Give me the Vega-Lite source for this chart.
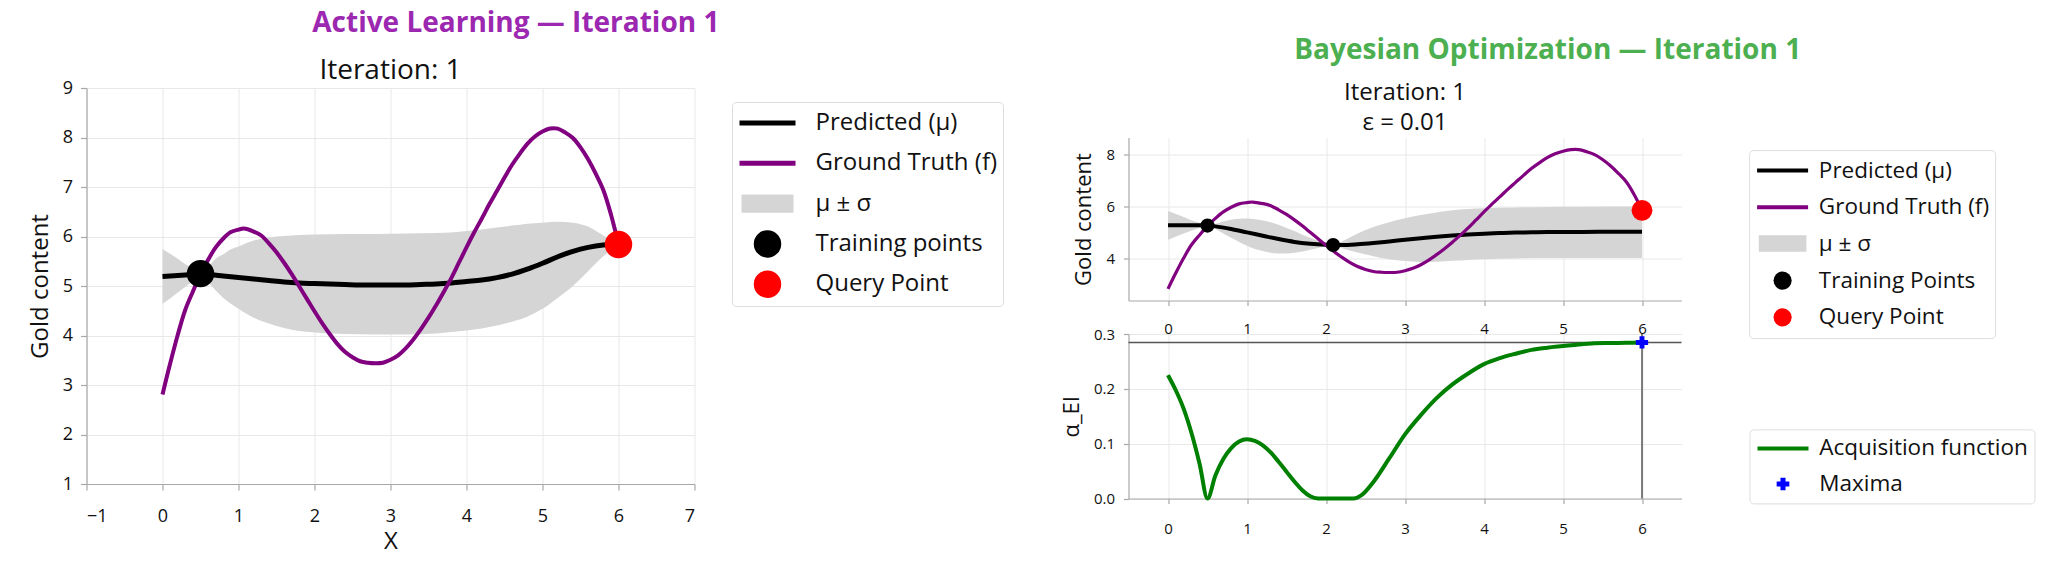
{
  "$schema": "https://vega.github.io/schema/vega-lite/v6.json",
  "background": "white",
  "padding": {"left": 27.5, "top": 10, "right": 0, "bottom": 12},
  "config": {
    "font": "Open Sans",
    "view": {"stroke": null},
    "axis": {
      "domainColor": "#a8a8a8", "domainWidth": 1.2, "tickColor": "#a8a8a8", "tickSize": 6, "tickWidth": 1.2,
      "gridColor": "#e8e8e8", "gridWidth": 1, "labelColor": "#111111", "titleColor": "#111111",
      "labelFont": "Open Sans", "titleFont": "Open Sans", "titleFontWeight": "normal"
    },
    "title": {"font": "Open Sans", "fontWeight": "normal", "color": "#111111", "anchor": "middle"},
    "legend": {"labelFont": "Open Sans", "labelColor": "#111111", "strokeColor": "#dddddd", "cornerRadius": 4, "fillColor": "white", "labelLimit": 500, "title": null}
  },
  "datasets": {
    "truth": [
      {"x": 0, "y": 2.81}, {"x": 0.1, "y": 3.43}, {"x": 0.2, "y": 4.01}, {"x": 0.3, "y": 4.52}, {"x": 0.4, "y": 4.89},
      {"x": 0.5, "y": 5.24}, {"x": 0.6, "y": 5.53}, {"x": 0.7, "y": 5.78}, {"x": 0.8, "y": 5.96}, {"x": 0.9, "y": 6.09},
      {"x": 1.0, "y": 6.14}, {"x": 1.07, "y": 6.16}, {"x": 1.2, "y": 6.1}, {"x": 1.3, "y": 6.02}, {"x": 1.4, "y": 5.86},
      {"x": 1.5, "y": 5.68}, {"x": 1.6, "y": 5.47}, {"x": 1.7, "y": 5.24}, {"x": 1.8, "y": 4.99}, {"x": 1.9, "y": 4.74},
      {"x": 2.0, "y": 4.49}, {"x": 2.1, "y": 4.25}, {"x": 2.2, "y": 4.03}, {"x": 2.3, "y": 3.83}, {"x": 2.4, "y": 3.67},
      {"x": 2.5, "y": 3.56}, {"x": 2.6, "y": 3.48}, {"x": 2.7, "y": 3.45}, {"x": 2.8, "y": 3.44}, {"x": 2.9, "y": 3.45},
      {"x": 3.0, "y": 3.51}, {"x": 3.1, "y": 3.6}, {"x": 3.2, "y": 3.74}, {"x": 3.3, "y": 3.92}, {"x": 3.4, "y": 4.13},
      {"x": 3.5, "y": 4.36}, {"x": 3.6, "y": 4.61}, {"x": 3.7, "y": 4.88}, {"x": 3.8, "y": 5.16}, {"x": 3.9, "y": 5.47},
      {"x": 4.0, "y": 5.78}, {"x": 4.1, "y": 6.08}, {"x": 4.2, "y": 6.36}, {"x": 4.3, "y": 6.65}, {"x": 4.4, "y": 6.92},
      {"x": 4.5, "y": 7.19}, {"x": 4.6, "y": 7.45}, {"x": 4.7, "y": 7.67}, {"x": 4.8, "y": 7.87}, {"x": 4.9, "y": 8.02},
      {"x": 5.0, "y": 8.12}, {"x": 5.1, "y": 8.18}, {"x": 5.2, "y": 8.18}, {"x": 5.3, "y": 8.1}, {"x": 5.4, "y": 7.99},
      {"x": 5.5, "y": 7.8}, {"x": 5.6, "y": 7.56}, {"x": 5.7, "y": 7.27}, {"x": 5.8, "y": 6.94}, {"x": 5.9, "y": 6.45},
      {"x": 6.0, "y": 5.84}
    ],
    "meanL": [
      {"x": 0, "y": 5.19}, {"x": 0.2, "y": 5.21}, {"x": 0.4, "y": 5.23}, {"x": 0.5, "y": 5.24}, {"x": 0.6, "y": 5.23},
      {"x": 0.8, "y": 5.2}, {"x": 1.0, "y": 5.17}, {"x": 1.2, "y": 5.14}, {"x": 1.4, "y": 5.11}, {"x": 1.6, "y": 5.08},
      {"x": 1.8, "y": 5.06}, {"x": 2.0, "y": 5.05}, {"x": 2.2, "y": 5.04}, {"x": 2.4, "y": 5.03}, {"x": 2.6, "y": 5.02},
      {"x": 2.8, "y": 5.02}, {"x": 3.0, "y": 5.02}, {"x": 3.2, "y": 5.02}, {"x": 3.4, "y": 5.03}, {"x": 3.6, "y": 5.04},
      {"x": 3.8, "y": 5.06}, {"x": 4.0, "y": 5.09}, {"x": 4.2, "y": 5.12}, {"x": 4.4, "y": 5.17}, {"x": 4.6, "y": 5.24},
      {"x": 4.8, "y": 5.34}, {"x": 5.0, "y": 5.46}, {"x": 5.2, "y": 5.59}, {"x": 5.4, "y": 5.7}, {"x": 5.6, "y": 5.78},
      {"x": 5.8, "y": 5.83}, {"x": 6.0, "y": 5.85}
    ],
    "bandL": [
      {"x": 0, "lo": 4.64, "hi": 5.75}, {"x": 0.1, "lo": 4.75, "hi": 5.65}, {"x": 0.2, "lo": 4.87, "hi": 5.55},
      {"x": 0.3, "lo": 4.98, "hi": 5.44}, {"x": 0.4, "lo": 5.1, "hi": 5.36}, {"x": 0.5, "lo": 5.24, "hi": 5.24},
      {"x": 0.6, "lo": 5.08, "hi": 5.38}, {"x": 0.7, "lo": 4.91, "hi": 5.55}, {"x": 0.8, "lo": 4.76, "hi": 5.64},
      {"x": 0.9, "lo": 4.64, "hi": 5.74}, {"x": 1.0, "lo": 4.54, "hi": 5.8}, {"x": 1.2, "lo": 4.36, "hi": 5.92},
      {"x": 1.4, "lo": 4.24, "hi": 5.98}, {"x": 1.6, "lo": 4.15, "hi": 6.01}, {"x": 1.8, "lo": 4.09, "hi": 6.03},
      {"x": 2.0, "lo": 4.06, "hi": 6.04}, {"x": 2.4, "lo": 4.03, "hi": 6.05}, {"x": 2.8, "lo": 4.02, "hi": 6.05},
      {"x": 3.2, "lo": 4.02, "hi": 6.06}, {"x": 3.6, "lo": 4.04, "hi": 6.07}, {"x": 3.8, "lo": 4.07, "hi": 6.08},
      {"x": 4.0, "lo": 4.1, "hi": 6.11}, {"x": 4.2, "lo": 4.14, "hi": 6.14}, {"x": 4.4, "lo": 4.2, "hi": 6.18},
      {"x": 4.6, "lo": 4.28, "hi": 6.22}, {"x": 4.8, "lo": 4.38, "hi": 6.26}, {"x": 5.0, "lo": 4.54, "hi": 6.28},
      {"x": 5.2, "lo": 4.76, "hi": 6.3}, {"x": 5.4, "lo": 5.0, "hi": 6.28}, {"x": 5.6, "lo": 5.3, "hi": 6.2},
      {"x": 5.8, "lo": 5.6, "hi": 6.02}, {"x": 6.0, "lo": 5.85, "hi": 5.85}
    ],
    "meanR": [
      {"x": 0, "y": 5.26}, {"x": 0.2, "y": 5.26}, {"x": 0.4, "y": 5.26}, {"x": 0.5, "y": 5.25}, {"x": 0.6, "y": 5.22},
      {"x": 0.8, "y": 5.12}, {"x": 1.0, "y": 4.99}, {"x": 1.2, "y": 4.86}, {"x": 1.4, "y": 4.73}, {"x": 1.6, "y": 4.62},
      {"x": 1.8, "y": 4.55}, {"x": 2.0, "y": 4.51}, {"x": 2.09, "y": 4.5}, {"x": 2.2, "y": 4.5}, {"x": 2.4, "y": 4.53},
      {"x": 2.6, "y": 4.58}, {"x": 2.8, "y": 4.64}, {"x": 3.0, "y": 4.7}, {"x": 3.2, "y": 4.76}, {"x": 3.4, "y": 4.82},
      {"x": 3.6, "y": 4.87}, {"x": 3.8, "y": 4.91}, {"x": 4.0, "y": 4.94}, {"x": 4.2, "y": 4.96}, {"x": 4.4, "y": 4.98},
      {"x": 4.6, "y": 4.99}, {"x": 4.8, "y": 5.0}, {"x": 5.0, "y": 5.0}, {"x": 5.5, "y": 5.01}, {"x": 6.0, "y": 5.01}
    ],
    "bandR": [
      {"x": 0, "lo": 4.7, "hi": 5.81}, {"x": 0.1, "lo": 4.83, "hi": 5.7}, {"x": 0.2, "lo": 4.95, "hi": 5.58},
      {"x": 0.3, "lo": 5.06, "hi": 5.45}, {"x": 0.4, "lo": 5.16, "hi": 5.36}, {"x": 0.5, "lo": 5.25, "hi": 5.25},
      {"x": 0.6, "lo": 5.12, "hi": 5.32}, {"x": 0.7, "lo": 4.95, "hi": 5.41}, {"x": 0.8, "lo": 4.78, "hi": 5.48},
      {"x": 0.9, "lo": 4.62, "hi": 5.51}, {"x": 1.0, "lo": 4.47, "hi": 5.52}, {"x": 1.1, "lo": 4.35, "hi": 5.5},
      {"x": 1.2, "lo": 4.27, "hi": 5.45}, {"x": 1.3, "lo": 4.2, "hi": 5.38}, {"x": 1.4, "lo": 4.17, "hi": 5.28},
      {"x": 1.5, "lo": 4.17, "hi": 5.16}, {"x": 1.6, "lo": 4.2, "hi": 5.04}, {"x": 1.7, "lo": 4.25, "hi": 4.9},
      {"x": 1.8, "lo": 4.32, "hi": 4.78}, {"x": 1.9, "lo": 4.39, "hi": 4.67}, {"x": 2.0, "lo": 4.45, "hi": 4.57},
      {"x": 2.09, "lo": 4.5, "hi": 4.5}, {"x": 2.2, "lo": 4.38, "hi": 4.64}, {"x": 2.4, "lo": 4.21, "hi": 4.95},
      {"x": 2.6, "lo": 4.07, "hi": 5.2}, {"x": 2.8, "lo": 3.95, "hi": 5.38}, {"x": 3.0, "lo": 3.88, "hi": 5.53},
      {"x": 3.2, "lo": 3.85, "hi": 5.66}, {"x": 3.4, "lo": 3.86, "hi": 5.76}, {"x": 3.6, "lo": 3.89, "hi": 5.84},
      {"x": 3.8, "lo": 3.92, "hi": 5.89}, {"x": 4.0, "lo": 3.95, "hi": 5.92}, {"x": 4.4, "lo": 3.98, "hi": 5.95},
      {"x": 4.8, "lo": 4.0, "hi": 5.97}, {"x": 5.2, "lo": 4.0, "hi": 5.98}, {"x": 6.0, "lo": 4.0, "hi": 5.99}
    ],
    "ei": [
      {"x": 0, "y": 0.225}, {"x": 0.1, "y": 0.197}, {"x": 0.2, "y": 0.163}, {"x": 0.3, "y": 0.118}, {"x": 0.4, "y": 0.063},
      {"x": 0.5, "y": 0.0}, {"x": 0.6, "y": 0.042}, {"x": 0.7, "y": 0.072}, {"x": 0.8, "y": 0.092}, {"x": 0.9, "y": 0.104},
      {"x": 1.0, "y": 0.108}, {"x": 1.1, "y": 0.105}, {"x": 1.2, "y": 0.097}, {"x": 1.3, "y": 0.084}, {"x": 1.4, "y": 0.067},
      {"x": 1.5, "y": 0.049}, {"x": 1.6, "y": 0.031}, {"x": 1.7, "y": 0.015}, {"x": 1.8, "y": 0.004}, {"x": 1.9, "y": 0.0},
      {"x": 2.0, "y": 0.0}, {"x": 2.2, "y": 0.0}, {"x": 2.35, "y": 0.0}, {"x": 2.45, "y": 0.006}, {"x": 2.6, "y": 0.03},
      {"x": 2.8, "y": 0.073}, {"x": 3.0, "y": 0.117}, {"x": 3.2, "y": 0.152}, {"x": 3.4, "y": 0.183}, {"x": 3.6, "y": 0.208},
      {"x": 3.8, "y": 0.228}, {"x": 4.0, "y": 0.245}, {"x": 4.2, "y": 0.256}, {"x": 4.4, "y": 0.264}, {"x": 4.6, "y": 0.271},
      {"x": 4.8, "y": 0.275}, {"x": 5.0, "y": 0.278}, {"x": 5.2, "y": 0.281}, {"x": 5.4, "y": 0.283}, {"x": 5.6, "y": 0.2835},
      {"x": 5.8, "y": 0.284}, {"x": 6.0, "y": 0.2846}
    ],
    "trainL": [{"x": 0.5, "y": 5.25}],
    "queryL": [{"x": 6.0, "y": 5.84}],
    "trainR": [{"x": 0.5, "y": 5.25}, {"x": 2.09, "y": 4.5}],
    "queryR": [{"x": 6.0, "y": 5.84}],
    "maxima": [{"x": 6.0, "y": 0.2846}]
  },
  "hconcat": [
    {
      "title": {"text": "Active Learning — Iteration 1", "color": "#9c27b0", "fontSize": 28, "fontWeight": "bold", "anchor": "middle", "frame": "bounds", "offset": 19},
      "vconcat": [
        {
          "width": 608,
          "height": 396,
          "title": {"text": "Iteration: 1", "fontSize": 28, "offset": -6, "frame": "group"},
          "layer": [
            {
              "data": {"name": "bandL"},
              "mark": {"type": "area", "interpolate": "monotone", "opacity": 1},
              "encoding": {
                "x": {"field": "x", "type": "quantitative", "scale": {"domain": [-1, 7], "nice": false, "zero": false},
                      "axis": {"values": [-1, 0, 1, 2, 3, 4, 5, 6, 7], "format": "d", "title": "X", "titleFontSize": 24, "labelFontSize": 18, "labelPadding": 17, "titlePadding": 4}},
                "y": {"field": "lo", "type": "quantitative", "scale": {"domain": [1, 9], "nice": false, "zero": false},
                      "axis": {"values": [1, 2, 3, 4, 5, 6, 7, 8, 9], "format": "d", "title": "Gold content", "titleFontSize": 24, "labelFontSize": 18, "labelPadding": 8, "titlePadding": 10}},
                "y2": {"field": "hi"},
                "fill": {
                  "datum": "μ ± σ", "type": "nominal",
                  "scale": {"domain": ["μ ± σ"], "range": ["#d5d5d5"]},
                  "legend": {"orient": "none", "legendX": 645.5, "legendY": 94.6, "direction": "vertical", "columns": 1, "zindex": 1,
                    "padding": 5, "clipHeight": 32, "rowPadding": 8.3, "labelFontSize": 24, "labelExpr": "''", "labelOffset": 17,
                    "symbolType": "M-1,-0.35L1,-0.35L1,0.35L-1,0.35Z", "symbolSize": 2704, "symbolStrokeWidth": 0, "symbolOffset": 4.5,
                    "strokeColor": "transparent", "fillColor": "transparent"}
                }
              }
            },
            {
              "data": {"name": "meanL"},
              "mark": {"type": "line", "interpolate": "monotone", "strokeWidth": 5},
              "encoding": {
                "x": {"field": "x", "type": "quantitative"},
                "y": {"field": "y", "type": "quantitative"},
                "stroke": {
                  "datum": "Predicted (μ)", "type": "nominal",
                  "scale": {"domain": ["Predicted (μ)", "Ground Truth (f)"], "range": ["#000000", "#800080"]},
                  "legend": {"orient": "none", "legendX": 645.5, "legendY": 14, "direction": "vertical", "columns": 1, "zindex": 1,
                    "padding": 5, "clipHeight": 32, "rowPadding": 8.3, "labelFontSize": 24, "labelExpr": "''", "labelOffset": 17,
                    "symbolType": "stroke", "symbolSize": 3136, "symbolStrokeWidth": 5, "symbolOffset": 0,
                    "strokeColor": "transparent", "fillColor": "transparent"}
                }
              }
            },
            {
              "data": {"name": "truth"},
              "mark": {"type": "line", "interpolate": "catmull-rom", "strokeWidth": 4},
              "encoding": {
                "x": {"field": "x", "type": "quantitative"},
                "y": {"field": "y", "type": "quantitative"},
                "stroke": {"datum": "Ground Truth (f)", "type": "nominal"}
              }
            },
            {
              "data": {"name": "trainL"},
              "mark": {"type": "point", "filled": true, "opacity": 1, "size": 755, "shape": "circle"},
              "encoding": {
                "x": {"field": "x", "type": "quantitative"},
                "y": {"field": "y", "type": "quantitative"},
                "color": {
                  "datum": "Training points", "type": "nominal",
                  "scale": {"domain": ["Predicted (μ)", "Ground Truth (f)", "μ ± σ", "Training points", "Query Point"], "range": ["transparent", "transparent", "transparent", "#000000", "#ff0000"]},
                  "legend": {"orient": "none", "legendX": 645.5, "legendY": 14, "direction": "vertical", "columns": 1, "zindex": 0,
                    "padding": 5, "clipHeight": 32, "rowPadding": 8.3, "labelFontSize": 24, "labelOffset": 34,
                    "symbolType": "circle", "symbolSize": 755, "symbolStrokeWidth": 0, "symbolOffset": 16.5}
                }
              }
            },
            {
              "data": {"name": "queryL"},
              "mark": {"type": "point", "filled": true, "opacity": 1, "size": 755, "shape": "circle"},
              "encoding": {
                "x": {"field": "x", "type": "quantitative"},
                "y": {"field": "y", "type": "quantitative"},
                "color": {"datum": "Query Point", "type": "nominal"}
              }
            }
          ]
        }
      ]
    },
    {
      "title": {"text": "Bayesian Optimization — Iteration 1", "color": "#4caf50", "fontSize": 28, "fontWeight": "bold", "anchor": "middle", "frame": "bounds", "offset": 16},
      "bounds": "flush",
      "spacing": 33.5,
      "resolve": {"scale": {"color": "independent", "fill": "independent", "stroke": "independent", "x": "independent", "y": "independent"}},
      "vconcat": [
        {
          "width": 553,
          "height": 15.5,
          "data": {"name": "maxima"},
          "mark": {"type": "point", "opacity": 0},
          "encoding": {
            "x": {"field": "x", "type": "quantitative", "axis": null},
            "y": {"field": "y", "type": "quantitative", "axis": null}
          }
        },
        {
          "width": 553,
          "height": 163,
          "title": {"text": ["Iteration: 1", "ε = 0.01"], "fontSize": 24, "lineHeight": 29.5, "offset": 3, "frame": "group"},
          "layer": [
            {
              "data": {"name": "bandR"},
              "mark": {"type": "area", "interpolate": "monotone", "opacity": 1},
              "encoding": {
                "x": {"field": "x", "type": "quantitative", "scale": {"domain": [-0.5, 6.5], "nice": false, "zero": false},
                      "axis": {"values": [0, 1, 2, 3, 4, 5, 6], "format": "d", "title": null, "labelFontSize": 15, "labelPadding": 16, "tickSize": 5}},
                "y": {"field": "lo", "type": "quantitative", "scale": {"domain": [2.36, 8.65], "nice": false, "zero": false},
                      "axis": {"values": [4, 6, 8], "format": "d", "title": "Gold content", "titleFontSize": 22, "labelFontSize": 15, "labelPadding": 9, "titlePadding": 10, "tickSize": 5}},
                "y2": {"field": "hi"},
                "fill": {
                  "datum": "μ ± σ", "type": "nominal",
                  "scale": {"domain": ["μ ± σ"], "range": ["#d5d5d5"]},
                  "legend": {"orient": "none", "legendX": 620.6, "legendY": 85.6, "direction": "vertical", "columns": 1, "zindex": 1,
                    "padding": 6, "clipHeight": 28.8, "rowPadding": 7.7, "labelFontSize": 22.5, "labelExpr": "''", "labelOffset": 14.5,
                    "symbolType": "M-1,-0.35L1,-0.35L1,0.35L-1,0.35Z", "symbolSize": 2266, "symbolStrokeWidth": 0, "symbolOffset": 3.5,
                    "strokeColor": "transparent", "fillColor": "transparent"}
                }
              }
            },
            {
              "data": {"name": "meanR"},
              "mark": {"type": "line", "interpolate": "monotone", "strokeWidth": 4},
              "encoding": {
                "x": {"field": "x", "type": "quantitative"},
                "y": {"field": "y", "type": "quantitative"},
                "stroke": {
                  "datum": "Predicted (μ)", "type": "nominal",
                  "scale": {"domain": ["Predicted (μ)", "Ground Truth (f)"], "range": ["#000000", "#800080"]},
                  "legend": {"orient": "none", "legendX": 620.6, "legendY": 12.6, "direction": "vertical", "columns": 1, "zindex": 1,
                    "padding": 6, "clipHeight": 28.8, "rowPadding": 7.7, "labelFontSize": 22.5, "labelExpr": "''", "labelOffset": 14.5,
                    "symbolType": "stroke", "symbolSize": 2601, "symbolStrokeWidth": 4, "symbolOffset": 0,
                    "strokeColor": "transparent", "fillColor": "transparent"}
                }
              }
            },
            {
              "data": {"name": "truth"},
              "mark": {"type": "line", "interpolate": "catmull-rom", "strokeWidth": 3.2},
              "encoding": {
                "x": {"field": "x", "type": "quantitative"},
                "y": {"field": "y", "type": "quantitative"},
                "stroke": {"datum": "Ground Truth (f)", "type": "nominal"}
              }
            },
            {
              "data": {"name": "trainR"},
              "mark": {"type": "point", "filled": true, "opacity": 1, "size": 200, "shape": "circle"},
              "encoding": {
                "x": {"field": "x", "type": "quantitative"},
                "y": {"field": "y", "type": "quantitative"},
                "color": {
                  "datum": "Training Points", "type": "nominal",
                  "scale": {"domain": ["Predicted (μ)", "Ground Truth (f)", "μ ± σ", "Training Points", "Query Point"], "range": ["transparent", "transparent", "transparent", "#000000", "#ff0000"]},
                  "legend": {"orient": "none", "legendX": 620.6, "legendY": 12.6, "direction": "vertical", "columns": 1, "zindex": 0,
                    "padding": 6, "clipHeight": 28.8, "rowPadding": 7.7, "labelFontSize": 22.5, "labelOffset": 25,
                    "symbolType": "circle", "symbolSize": 330, "symbolStrokeWidth": 0, "symbolOffset": 16.25}
                }
              }
            },
            {
              "data": {"name": "queryR"},
              "mark": {"type": "point", "filled": true, "opacity": 1, "size": 435, "shape": "circle"},
              "encoding": {
                "x": {"field": "x", "type": "quantitative"},
                "y": {"field": "y", "type": "quantitative"},
                "color": {"datum": "Query Point", "type": "nominal"}
              }
            }
          ]
        },
        {
          "width": 553,
          "height": 164.5,
          "layer": [
            {
              "data": {"name": "maxima"},
              "mark": {"type": "rule", "color": "#555555", "strokeWidth": 1.5},
              "encoding": {
                "y": {"field": "y", "type": "quantitative", "scale": {"domain": [0, 0.3], "nice": false, "zero": false},
                      "axis": {"values": [0, 0.1, 0.2, 0.3], "format": ".1f", "title": "α_EI", "titleFontSize": 22, "labelFontSize": 15, "labelPadding": 9, "titlePadding": 10, "tickSize": 5}}
              }
            },
            {
              "data": {"name": "maxima"},
              "mark": {"type": "rule", "color": "#555555", "strokeWidth": 1.5},
              "encoding": {
                "x": {"field": "x", "type": "quantitative", "scale": {"domain": [-0.5, 6.5], "nice": false, "zero": false},
                      "axis": {"values": [0, 1, 2, 3, 4, 5, 6], "format": "d", "title": null, "labelFontSize": 15, "labelPadding": 17.5, "tickSize": 5}}
              }
            },
            {
              "data": {"name": "ei"},
              "mark": {"type": "line", "interpolate": "monotone", "strokeWidth": 4},
              "encoding": {
                "x": {"field": "x", "type": "quantitative"},
                "y": {"field": "y", "type": "quantitative"},
                "stroke": {
                  "datum": "Acquisition function", "type": "nominal",
                  "scale": {"domain": ["Acquisition function"], "range": ["#008000"]},
                  "legend": {"orient": "none", "legendX": 621, "legendY": 95.4, "direction": "vertical", "columns": 1, "zindex": 1,
                    "padding": 6, "clipHeight": 26, "rowPadding": 9.6, "labelFontSize": 22.5, "labelExpr": "''", "labelOffset": 14.5,
                    "symbolType": "stroke", "symbolSize": 2601, "symbolStrokeWidth": 4, "symbolOffset": 0,
                    "strokeColor": "transparent", "fillColor": "transparent"}
                }
              }
            },
            {
              "data": {"name": "maxima"},
              "mark": {"type": "point", "filled": true, "opacity": 1, "size": 150, "shape": "cross"},
              "encoding": {
                "x": {"field": "x", "type": "quantitative"},
                "y": {"field": "y", "type": "quantitative"},
                "color": {
                  "datum": "Maxima", "type": "nominal",
                  "scale": {"domain": ["Acquisition function", "Maxima"], "range": ["transparent", "#0000ff"]},
                  "legend": {"orient": "none", "legendX": 621, "legendY": 95.4, "direction": "vertical", "columns": 1, "zindex": 0,
                    "padding": 6, "clipHeight": 26, "rowPadding": 9.6, "labelFontSize": 22.5, "labelOffset": 25,
                    "symbolType": "cross", "symbolSize": 161, "symbolStrokeWidth": 0, "symbolOffset": 16.25}
                }
              }
            }
          ]
        }
      ]
    }
  ],
  "spacing": 56,
  "resolve": {"scale": {"color": "independent", "fill": "independent", "stroke": "independent", "x": "independent", "y": "independent"}}
}
